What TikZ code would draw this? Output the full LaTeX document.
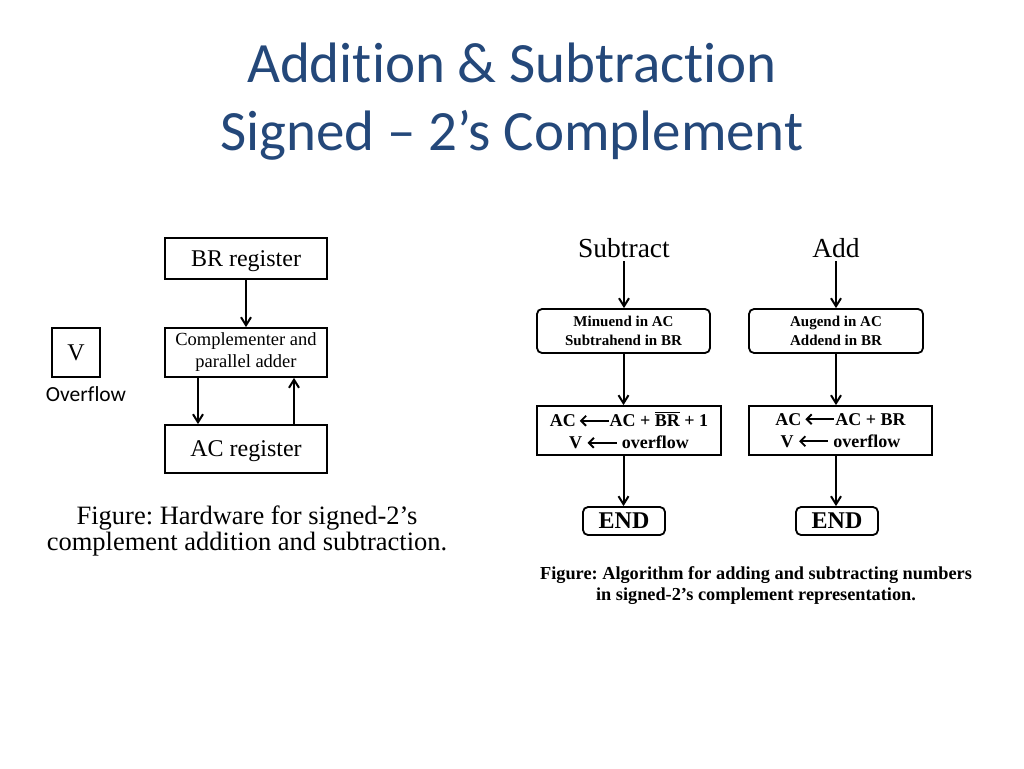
\documentclass[tikz,border=0pt]{standalone}
\usepackage{amsmath}
\usepackage{fontspec}
\setmainfont{Liberation Serif}
\newfontfamily\titlefont[Ligatures=NoCommon]{Carlito}
\usepackage{tikz}
\usetikzlibrary{arrows.meta, positioning}
\definecolor{titleblue}{RGB}{36,72,122}
\newcommand{\larr}{\tikz[baseline=-0.75ex]\draw[{Straight Barb[length=5pt,width=10pt]}-, line width=1.9pt] (0pt,0pt) -- (29pt,0pt);}
\newcommand{\barBR}{\ensuremath{\overline{\mbox{BR}}}}
\frenchspacing

\begin{document}
\begin{tikzpicture}[x=1pt, y=-1pt,
    reg/.style={draw, line width=1.8pt, inner sep=0pt, align=center},
    flow/.style={draw, line width=1.8pt, inner sep=0pt, align=center, font=\fontsize{15}{19}\selectfont\bfseries},
    rflow/.style={flow, rounded corners=5pt},
    arr/.style={-{Straight Barb[length=8pt, width=10pt]}, line width=2pt}
  ]
    \useasboundingbox (0,0) rectangle (1024,768);

    % title
    \node[anchor=base, text=titleblue, font=\titlefont\fontsize{57}{60}\selectfont] (title1) at (512, 82) {Addition \& Subtraction};
    \node[anchor=base, text=titleblue, font=\titlefont\fontsize{57}{60}\selectfont] (title2) at (512, 150) {Signed – 2’s Complement};

    % hardware
    \node[reg, minimum width=162, minimum height=41, text depth=0pt, font=\fontsize{24}{26}\selectfont] (br) at (246, 258.5) {BR register};
    \node[reg, minimum width=162, minimum height=49, font=\fontsize{18.5}{22}\selectfont] (cpa) at (246, 352.5) {Complementer and\\parallel adder};
    \node[reg, minimum width=48, minimum height=49, text depth=0pt, font=\fontsize{24}{26}\selectfont] (v) at (76, 352.5) {V};
    \node[font=\titlefont\fontsize{21.5}{24}\selectfont] (ovf) at (86, 394) {Overflow};
    \node[reg, minimum width=162, minimum height=48, text depth=0pt, font=\fontsize{24}{26}\selectfont] (ac) at (246, 449) {AC register};

    \draw[arr] (br) -- (cpa);
    \draw[arr] ([xshift=-48]cpa.south) -- ([xshift=-48]cpa.south |- ac.north);
    \draw[arr] ([xshift=48]ac.north) -- ([xshift=48]ac.north |- cpa.south);

    \node[align=center, font=\fontsize{26.5}{23.5}\selectfont] (hwcap) at (247, 531) {Figure: Hardware for signed-2’s\\complement addition and subtraction.};

    % algorithm
    \node[font=\fontsize{27.5}{30}\selectfont] (sub) at (624, 248) {Subtract};
    \node[font=\fontsize{27.5}{30}\selectfont] (add) at (836, 248) {Add};

    \node[rflow, minimum width=173, minimum height=44] (minu) at (623.5, 331) {Minuend in AC\\Subtrahend in BR};
    \node[rflow, minimum width=174, minimum height=44] (augd) at (836, 331) {Augend in AC\\Addend in BR};

    \node[flow, minimum width=184, minimum height=49, font=\fontsize{18}{22}\selectfont\bfseries] (subop) at (629, 430.5) {AC\,\larr AC + \barBR{} + 1\\V \larr{} overflow};
    \node[flow, minimum width=183, minimum height=49, font=\fontsize{18}{22}\selectfont\bfseries] (addop) at (840.5, 430.5) {AC\,\larr AC + BR\\V \larr{} overflow};

    \node[rflow, minimum width=82, minimum height=28, font=\fontsize{24}{26}\selectfont\bfseries] (end1) at (624, 521) {END};
    \node[rflow, minimum width=82, minimum height=28, font=\fontsize{24}{26}\selectfont\bfseries] (end2) at (837, 521) {END};

    \draw[arr] (sub) -- (sub |- minu.north);
    \draw[arr] (add) -- (add |- augd.north);
    \draw[arr] (minu.south) -- (minu.south |- subop.north);
    \draw[arr] (augd.south) -- (augd.south |- addop.north);
    \draw[arr] (minu.south |- subop.south) -- (minu.south |- end1.north);
    \draw[arr] (augd.south |- addop.south) -- (augd.south |- end2.north);

    \node[align=center, font=\fontsize{18.3}{21}\selectfont\bfseries] (algcap) at (756, 585.5) {Figure: Algorithm for adding and subtracting numbers\\in signed-2’s complement representation.};
  \end{tikzpicture}
\end{document}
